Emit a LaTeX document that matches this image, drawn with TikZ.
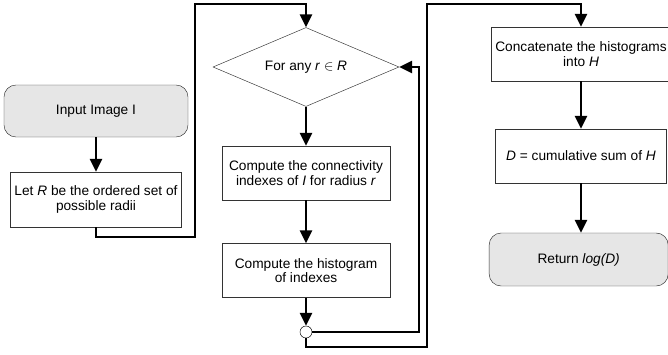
\documentclass[tikz,border=0pt]{standalone}
\usepackage{fontspec}
\setmainfont{Liberation Sans}
\usetikzlibrary{shapes.geometric, arrows.meta}
\definecolor{boxgray}{HTML}{E6E6E6}
\definecolor{edgegray}{HTML}{333333}
\tikzstyle{startstop} = [rectangle, rounded corners=0.36cm, minimum width=5.52cm, minimum height=1.56cm, text centered, align=center, draw=edgegray, fill=boxgray]
\tikzstyle{process} = [rectangle, minimum width=5.04cm, minimum height=1.62cm, text centered, align=center, draw=edgegray]
\tikzstyle{decision} = [diamond, minimum width=5.58cm, minimum height=2.37cm, aspect=2.35, inner sep=0pt, text centered, draw=edgegray]
\tikzstyle{junction} = [circle, minimum size=0.36cm, inner sep=0pt, draw=black, fill=white]
\tikzstyle{arrow} = [line width=1.7pt, -{Triangle[length=3.9mm,width=3.7mm]}]

\begin{document}
\begin{tikzpicture}[node distance=3cm, font=\fontsize{11.7}{12.4}\selectfont]
  \useasboundingbox (0,0) rectangle (20.04,-10.62);

  \node (in) [startstop] at (2.88,-3.33) {Input Image I};
  \node (radii) [process, minimum width=5.1cm, minimum height=1.65cm, below of=in, yshift=0.345cm] {Let \textit{R} be the ordered set of\\possible radii};

  \node (loop) [decision] at (9.18,-2.01) {For any \textit{r} $\in$ \textit{R}};
  \node (conn) [process, below of=loop, yshift=-0.18cm] {Compute the connectivity\\indexes of \textit{I} for radius \textit{r}};
  \node (hist) [process, below of=conn, yshift=0.075cm] {Compute the histogram\\of indexes};
  \node (join) [junction, below of=hist, yshift=1.155cm] {};

  \node (concat) [process, minimum width=5.13cm] at (17.43,-1.62) {Concatenate the histograms\\into \textit{H}};
  \node (cumsum) [process, minimum width=5.13cm, below of=concat, yshift=-0.06cm] {\textit{D} = cumulative sum of \textit{H}};
  \node (ret) [startstop, minimum width=5.37cm, minimum height=1.59cm, below of=cumsum, yshift=-0.105cm, xshift=-0.07cm] {Return \textit{log(D)}};

  \coordinate (gapL) at (5.85,-7.11);
  \coordinate (topL) at (5.85,-0.12);
  \coordinate (backR) at (12.57,-2.01);
  \coordinate (outB) at (12.81,-10.41);
  \coordinate (topR) at (12.81,-0.12);

  \draw [arrow] (in) -- (radii);
  \draw [arrow] (radii.south) |- (gapL) -- (topL) -| (loop.north);
  \draw [arrow] (loop) -- (conn);
  \draw [arrow] (conn) -- (hist);
  \draw [arrow] (hist) -- (join);
  \draw [arrow] (join.east) -| (backR) -- (loop.east);
  \draw [arrow] (join.south) |- (outB) -- (topR) -| (concat.north);
  \draw [arrow] (concat) -- (cumsum);
  \draw [arrow] (cumsum.south) -- (cumsum.south |- ret.north);

\end{tikzpicture}
\end{document}
